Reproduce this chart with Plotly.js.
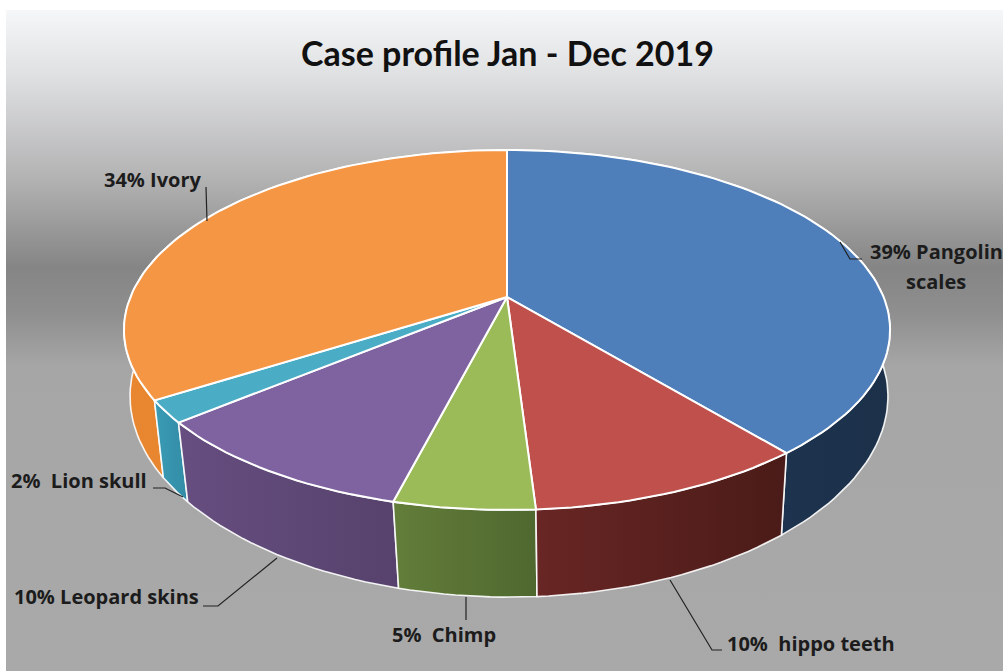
<!DOCTYPE html>
<html>
<head>
<meta charset="utf-8">
<script src="https://cdn.plot.ly/plotly-3.0.1.min.js"></script>
<style>html,body{margin:0;padding:0;background:#fff;overflow:hidden}#chart{width:1003px;height:671px}</style>
</head>
<body>
<div id="chart"></div>
<script>
// ---- data ----
const categories = ["Pangolin scales", "hippo teeth", "Chimp", "Leopard skins", "Lion skull", "Ivory"];
const values = [39, 10, 5, 10, 2, 34];
const labelTexts = ["39% Pangolin", "scales", "10%  hippo teeth", "5%  Chimp", "10% Leopard skins", "2%  Lion skull", "34% Ivory"];
const chartTitle = "Case profile Jan - Dec 2019";

// ---- styles ----
const topColors = ["#4e7fbb", "#bf504c", "#9bbb59", "#7f63a1", "#4bacc6", "#f59645"];
const sideLeft = ["#1d3a5c", "#682624", "#637d3a", "#664e80", "#3a9bb5", "#e8872f"];
const sideRight = ["#1c3049", "#4a1b18", "#4f682f", "#56426c", "#338ca6", "#df7f2a"];
const leaders = [
  [[840,242],[850,259],[862,259]],
  [[670,580],[712,650],[722,650]],
  [[466,597],[466,620]],
  [[203,606],[218,606],[277,558]],
  [[153,488],[165,488],[183,497]],
  [[206,187],[207,221]]
];
const labelPos = [[936,251],[936,281],[811,643],[444,634],[106,596],[79,480],[153,179]];

// ---- perspective projection of the pie disc ----
const k = 0.183;
const topDisc = {cx: 507, rx: 376.6, ry: 174, y0: 297, bulge: 0};
const botDisc = {cx: 509, rx: 365, ry: 188, y0: 365, bulge: 0.025};
function project(disc, deg) {
  const a = deg * Math.PI / 180, u = Math.sin(a), v = -Math.cos(a), d = 1 - k * v;
  const rx = disc.rx * (1 + disc.bulge * (1 - v));
  return [disc.cx + rx * u / d, disc.y0 + disc.ry * v / d + (disc.bulge ? 2 * Math.max(0, v) : 0)];
}
function arc(disc, a0, a1) {
  const n = Math.max(2, Math.ceil(Math.abs(a1 - a0) / 1.5)), pts = [];
  for (let i = 0; i <= n; i++) pts.push(project(disc, a0 + (a1 - a0) * i / n));
  return pts;
}
const total = values.reduce((s, v) => s + v, 0);
let run = 0;
const spans = values.map(v => { const s = [run / total * 360, (run + v) / total * 360]; run += v; return s; });

const traces = [];
// background
traces.push({
  x: [6, 1003, 1003, 6, 6], y: [10, 10, 671, 671, 10],
  mode: "lines", line: {width: 0}, fill: "toself", hoverinfo: "skip", showlegend: false,
  fillcolor: "#a8a8a8",
  fillgradient: {type: "vertical", start: 10, stop: 671, colorscale: [
    [0, "#f5f7f9"], [0.1, "#dfe0e2"], [0.25, "#b4b4b5"], [0.39, "#858585"],
    [0.46, "#8f8f8f"], [0.54, "#a6a6a6"], [1, "#a9a9a9"]]}
});
// side walls
const sideOrder = [0, 5, 4, 3, 2, 1];
sideOrder.forEach(i => {
  const [a0, a1] = spans[i];
  const pts = arc(topDisc, a0, a1).concat(arc(botDisc, a1, a0));
  pts.push(pts[0]);
  const xs = pts.map(p => p[0]);
  traces.push({
    name: categories[i] + " side",
    x: xs, y: pts.map(p => p[1]),
    mode: "lines", line: {color: "rgba(255,255,255,0.9)", width: 1.6},
    fill: "toself", hoverinfo: "skip", showlegend: false,
    fillcolor: sideRight[i],
    fillgradient: {type: "horizontal", start: Math.min(...xs), stop: Math.max(...xs),
      colorscale: [[0, sideLeft[i]], [1, sideRight[i]]]}
  });
});
// top wedges
spans.forEach(([a0, a1], i) => {
  const pts = [[topDisc.cx, topDisc.y0]].concat(arc(topDisc, a0, a1));
  pts.push(pts[0]);
  traces.push({
    name: categories[i],
    x: pts.map(p => p[0]), y: pts.map(p => p[1]),
    mode: "lines", line: {color: "#ffffff", width: 2},
    fill: "toself", fillcolor: topColors[i], hoverinfo: "name", showlegend: false
  });
});
// leader lines
leaders.forEach(l => traces.push({
  x: l.map(p => p[0]), y: l.map(p => p[1]), mode: "lines",
  line: {color: "#222222", width: 1.2}, hoverinfo: "skip", showlegend: false
}));

const annotations = labelTexts.map((t, i) => ({
  x: labelPos[i][0], y: labelPos[i][1], xref: "x", yref: "y", text: t, showarrow: false,
  xanchor: "center", yanchor: "middle", align: "center",
  font: {family: "'Open Sans', sans-serif", size: 20, color: "#1c1c1c", weight: 700}
}));
annotations.push({
  x: 507, y: 52, xref: "x", yref: "y", text: chartTitle, showarrow: false,
  xanchor: "center", yanchor: "middle",
  font: {family: "Lato, sans-serif", size: 34, color: "#111111", weight: 700}
});

Plotly.newPlot("chart", traces, {
  width: 1003, height: 671, margin: {l: 0, r: 0, t: 0, b: 0},
  paper_bgcolor: "#ffffff", plot_bgcolor: "#ffffff", showlegend: false,
  xaxis: {range: [0, 1003], visible: false, fixedrange: true},
  yaxis: {range: [671, 0], visible: false, fixedrange: true},
  annotations
}, {displayModeBar: false});
</script>
</body>
</html>
